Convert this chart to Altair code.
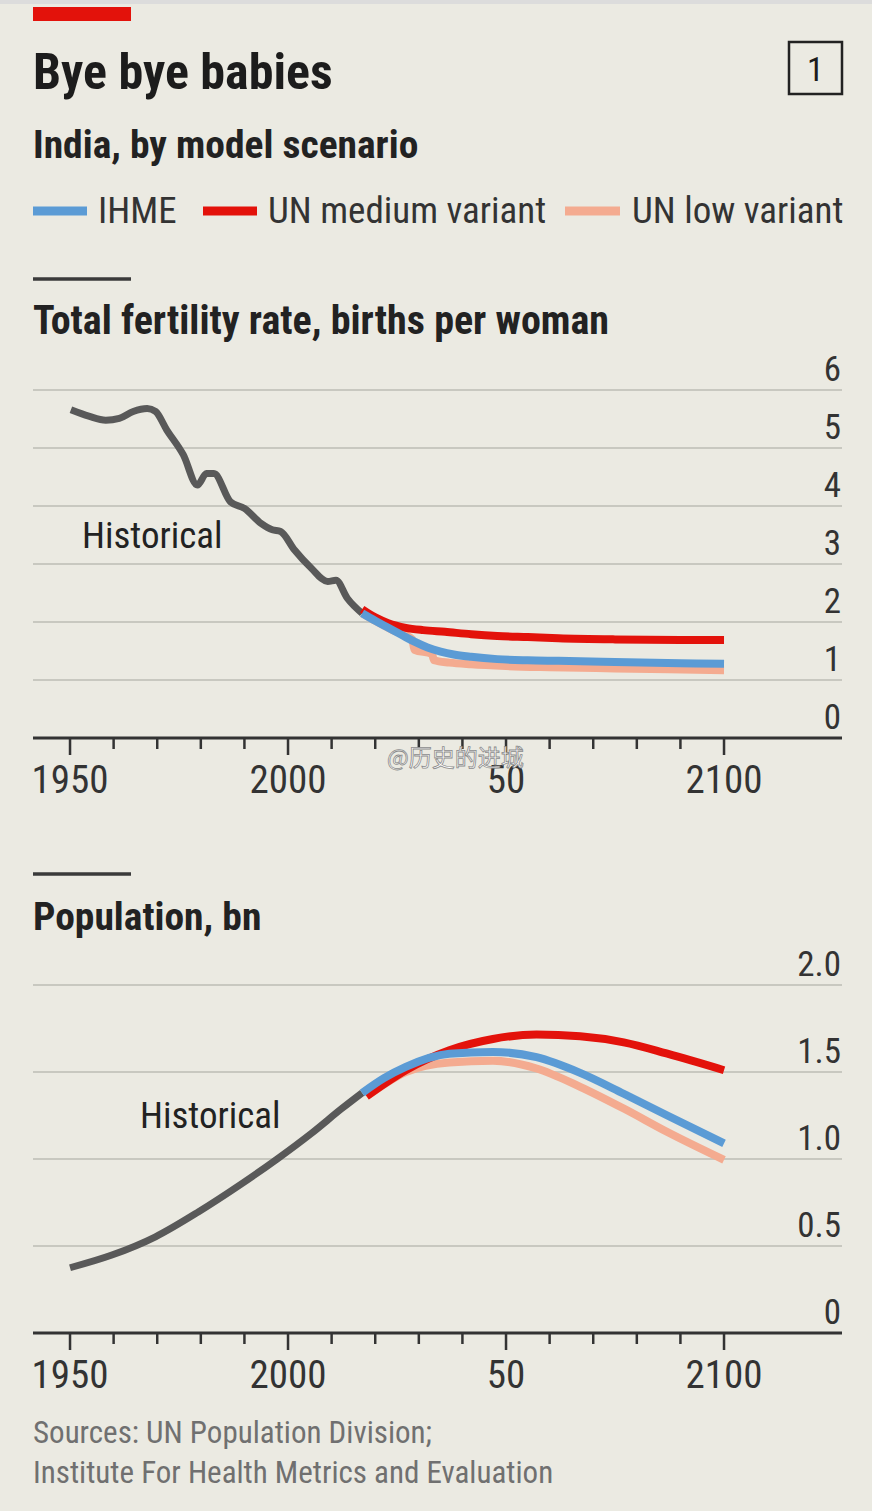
import altair as alt
import pandas as pd

# ---------------- data ----------------
tfr_hist_years = [1950.2, 1954.3, 1958.2, 1961.3, 1964.5, 1967.7, 1969.6, 1972.2, 1976.0, 1979.2,
                  1981.3, 1983.0, 1986.8, 1990.0, 1993.8, 1996.4, 1998.3, 2001.5, 2005.3, 2009.1,
                  2011.0, 2013.6, 2017.0]
tfr_hist_values = [5.66, 5.55, 5.48, 5.51, 5.63, 5.68, 5.63, 5.31, 4.88, 4.36,
                   4.56, 4.56, 4.07, 3.96, 3.70, 3.59, 3.56, 3.24, 2.93, 2.70,
                   2.72, 2.41, 2.15]

tfr_ihme_years = [2017, 2020, 2023, 2026, 2029, 2032, 2035, 2038, 2042, 2048, 2055, 2062, 2075, 2090, 2100]
tfr_ihme_values = [2.15, 2.02, 1.90, 1.78, 1.66, 1.56, 1.49, 1.44, 1.40, 1.36, 1.34, 1.33, 1.31, 1.29, 1.28]

tfr_unmed_years = [2017, 2020, 2023, 2027, 2031, 2036, 2042, 2048, 2055, 2062, 2075, 2090, 2100]
tfr_unmed_values = [2.22, 2.08, 1.98, 1.90, 1.86, 1.83, 1.79, 1.76, 1.74, 1.72, 1.70, 1.69, 1.69]

tfr_unlow_years = [2017, 2020, 2024, 2028.5, 2029, 2033, 2033.5, 2037, 2042, 2050, 2060, 2075, 2100]
tfr_unlow_values = [2.15, 2.02, 1.86, 1.70, 1.52, 1.45, 1.34, 1.30, 1.27, 1.24, 1.22, 1.20, 1.17]

pop_hist_years = [1950, 1959.6, 1969.6, 1979.5, 1989.5, 1997.4, 2005.4, 2012.4, 2017]
pop_hist_values = [0.375, 0.448, 0.553, 0.697, 0.860, 0.998, 1.148, 1.291, 1.38]

pop_ihme_years = [2017, 2022, 2027, 2037, 2047, 2057, 2067, 2077, 2087, 2100]
pop_ihme_values = [1.38, 1.465, 1.53, 1.605, 1.615, 1.585, 1.495, 1.375, 1.25, 1.09]

pop_unmed_years = [2018, 2022, 2027, 2037, 2047, 2057, 2067, 2077, 2087, 2100]
pop_unmed_values = [1.36, 1.43, 1.51, 1.625, 1.69, 1.715, 1.705, 1.67, 1.605, 1.51]

pop_unlow_years = [2018, 2027, 2037, 2047, 2057, 2067, 2077, 2087, 2100]
pop_unlow_values = [1.36, 1.50, 1.555, 1.565, 1.52, 1.415, 1.29, 1.155, 0.995]

tfr_ticks = [0, 1, 2, 3, 4, 5, 6]
tfr_tick_labels = ["0", "1", "2", "3", "4", "5", "6"]
pop_ticks = [0, 0.5, 1.0, 1.5, 2.0]
pop_tick_labels = ["0", "0.5", "1.0", "1.5", "2.0"]

year_ticks_major = [1950, 2000, 2050, 2100]
year_ticks_minor = [1960, 1970, 1980, 1990, 2010, 2020, 2030, 2040, 2060, 2070, 2080, 2090]
year_labels = ["1950", "2000", "50", "2100"]

series_names = ["IHME", "UN medium variant", "UN low variant"]
series_colors = ["#5b9bd5", "#e3120b", "#f4ab90"]
HIST_COLOR = "#595959"

# ---------------- styling ----------------
FONT = "Liberation Sans Narrow, Arial Narrow, Roboto Condensed, sans-serif"
CJK = "Noto Sans CJK SC"
BG = "#ebeae2"
GRID = "#c8c8c0"
DARK = "#1c1c1c"
AXIS = "#333333"
W, H = 872, 1511

X_DOMAIN = [1933.94, 2133.94]
TFR_DOMAIN = [-(H - 738) / 58.0, 738 / 58.0]
POP_DOMAIN = [-(H - 1333) / 174.0, 1333 / 174.0]

xs = alt.Scale(domain=X_DOMAIN, nice=False, zero=False)
ys_tfr = alt.Scale(domain=TFR_DOMAIN, nice=False, zero=False)
ys_pop = alt.Scale(domain=POP_DOMAIN, nice=False, zero=False)

ONE = pd.DataFrame({"a": [0]})


def df(years, values):
    return pd.DataFrame({"year": years, "value": values})


def line(years, values, color, width, ys, interp):
    return alt.Chart(df(years, values)).mark_line(
        color=color, strokeWidth=width, interpolate=interp, strokeCap="butt", strokeJoin="round"
    ).encode(
        x=alt.X("year:Q", scale=xs, axis=None),
        y=alt.Y("value:Q", scale=ys, axis=None),
    )


def txt(s, x, y, size, weight="normal", color=DARK, align="left", font=FONT, **kw):
    return alt.Chart(ONE).mark_text(
        text=s, align=align, baseline="alphabetic", fontSize=size, fontWeight=weight,
        color=color, font=font, **kw
    ).encode(x=alt.value(x), y=alt.value(y))


def hrule(x1, x2, y, color, width):
    return alt.Chart(ONE).mark_rule(color=color, strokeWidth=width).encode(
        x=alt.value(x1), x2=alt.value(x2), y=alt.value(y)
    )


def panel(ys, ticks, labels, axis_y, hist, ihme, unmed, unlow, interp_hist, interp_proj):
    grid = alt.Chart(pd.DataFrame({"v": ticks[1:]})).mark_rule(color=GRID, strokeWidth=2).encode(
        x=alt.value(33), x2=alt.value(842), y=alt.Y("v:Q", scale=ys, axis=None)
    )
    base = alt.Chart(pd.DataFrame({"v": [0]})).mark_rule(color=AXIS, strokeWidth=3).encode(
        x=alt.value(33), x2=alt.value(842), y=alt.Y("v:Q", scale=ys, axis=None)
    )
    ylab = alt.Chart(pd.DataFrame({"v": ticks, "label": labels})).mark_text(
        align="right", baseline="alphabetic", dy=-9, fontSize=35, font=FONT, color="#333333"
    ).encode(x=alt.value(841), y=alt.Y("v:Q", scale=ys, axis=None), text="label:N")
    major = alt.Chart(pd.DataFrame({"year": year_ticks_major})).mark_rule(color=AXIS, strokeWidth=2.5).encode(
        x=alt.X("year:Q", scale=xs, axis=None), y=alt.value(axis_y), y2=alt.value(axis_y + 17)
    )
    minor = alt.Chart(pd.DataFrame({"year": year_ticks_minor})).mark_rule(color=AXIS, strokeWidth=2.5).encode(
        x=alt.X("year:Q", scale=xs, axis=None), y=alt.value(axis_y), y2=alt.value(axis_y + 11)
    )
    xlab = alt.Chart(pd.DataFrame({"year": year_ticks_major, "label": year_labels})).mark_text(
        align="center", baseline="alphabetic", fontSize=39, font=FONT, color="#333333"
    ).encode(x=alt.X("year:Q", scale=xs, axis=None), y=alt.value(axis_y + 55), text="label:N")
    l_hist = line(hist[0], hist[1], HIST_COLOR, 7, ys, interp_hist)
    l_low = line(unlow[0], unlow[1], series_colors[2], 8, ys, interp_proj)
    l_med = line(unmed[0], unmed[1], series_colors[1], 8, ys, interp_proj)
    l_ihme = line(ihme[0], ihme[1], series_colors[0], 8, ys, interp_proj)
    return alt.layer(grid, base, ylab, major, minor, xlab, l_hist, l_low, l_med, l_ihme)


top = panel(ys_tfr, tfr_ticks, tfr_tick_labels, 738,
            (tfr_hist_years, tfr_hist_values), (tfr_ihme_years, tfr_ihme_values),
            (tfr_unmed_years, tfr_unmed_values), (tfr_unlow_years, tfr_unlow_values),
            "monotone", "monotone")
bottom = panel(ys_pop, pop_ticks, pop_tick_labels, 1333,
               (pop_hist_years, pop_hist_values), (pop_ihme_years, pop_ihme_values),
               (pop_unmed_years, pop_unmed_values), (pop_unlow_years, pop_unlow_values),
               "monotone", "monotone")

# ---------------- header / decorations ----------------
decor = [
    alt.Chart(ONE).mark_rect(color="#dcdcdc").encode(x=alt.value(0), x2=alt.value(W), y=alt.value(0), y2=alt.value(4)),
    alt.Chart(ONE).mark_rect(color="#e3120b").encode(x=alt.value(33), x2=alt.value(131), y=alt.value(7), y2=alt.value(21)),
    txt("Bye bye babies", 33, 89, 50, weight="bold"),
    alt.Chart(ONE).mark_rect(fillOpacity=0, stroke="#222222", strokeWidth=2.5).encode(
        x=alt.value(789), x2=alt.value(842), y=alt.value(42), y2=alt.value(94)),
    txt("1", 815.5, 81, 34, align="center"),
    txt("India, by model scenario", 33, 158, 39.5, weight="bold", color="#222222"),
    hrule(33, 87, 211, series_colors[0], 9),
    txt(series_names[0], 98, 223, 37, color="#333333"),
    hrule(203, 257, 211, series_colors[1], 9),
    txt(series_names[1], 268, 223, 37, color="#333333"),
    hrule(565, 620, 211, series_colors[2], 9),
    txt(series_names[2], 632, 223, 37, color="#333333"),
    hrule(33, 131, 279, "#3a3a3a", 3.5),
    txt("Total fertility rate, births per woman", 33, 334, 40, weight="bold", color="#222222"),
    txt("Historical", 82, 548, 37, color="#222222"),
    hrule(33, 131, 874, "#3a3a3a", 3.5),
    txt("Population, bn", 33, 930, 39.5, weight="bold", color="#222222"),
    txt("Historical", 140, 1128, 37, color="#222222"),
    txt("Sources: UN Population Division;", 33, 1443, 31, color="#707070"),
    txt("Institute For Health Metrics and Evaluation", 33, 1483, 31, color="#707070"),
]
watermark = txt("@历史的进城", 387, 766, 23, font=CJK, color="#ffffff", stroke="#8a8a8a", strokeWidth=0.8)

chart = alt.layer(top, bottom, *decor, watermark).resolve_scale(y="independent").properties(
    width=W, height=H, background=BG, padding=0,
    autosize=alt.AutoSizeParams(type="none"),
).configure_view(stroke=None)

chart.save("out.html", embed_options={"renderer": "svg", "actions": False})
